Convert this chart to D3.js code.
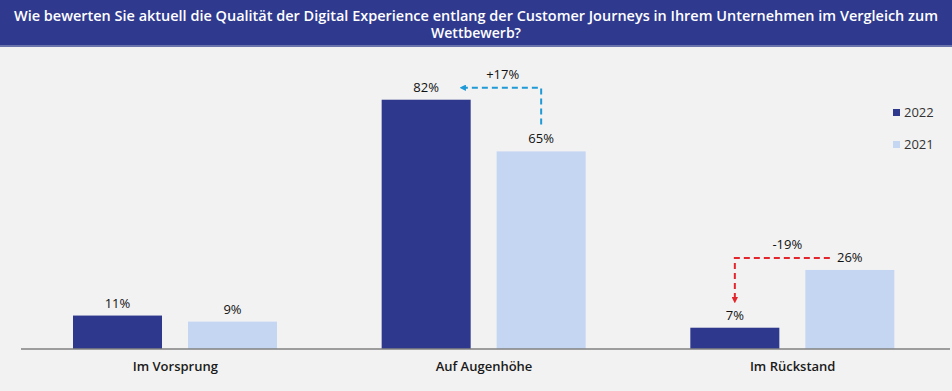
<!DOCTYPE html>
<html>
<head>
<meta charset="utf-8">
<script src="https://cdn.jsdelivr.net/npm/d3@7"></script>
<style>
  body { margin: 0; background: #f2f2f2; }
  svg { display: block; }
</style>
</head>
<body>
<svg id="chart"></svg>
<script>
// data
const categories = ["Im Vorsprung", "Auf Augenhöhe", "Im Rückstand"];
const years = ["2022", "2021"];
const values2022 = [11, 82, 7];
const values2021 = [9, 65, 26];
const titleLines = [
    "Wie bewerten Sie aktuell die Qualität der Digital Experience entlang der Customer Journeys in Ihrem Unternehmen im Vergleich zum",
    "Wettbewerb?"
];
const deltas = [
    { cat: "Auf Augenhöhe", label: "+17%" },
    { cat: "Im Rückstand", label: "-19%" }
];

const width = 952, height = 391;
const colors = { "2022": "#2e388c", "2021": "#c5d6f3" };
const font = "'Open Sans', 'Noto Sans', sans-serif";

const svg = d3.select("#chart")
    .attr("width", width)
    .attr("height", height)
    .style("font-family", font);

svg.append("rect").attr("width", width).attr("height", height).attr("fill", "#f2f2f2");

/* title bar */
svg.append("rect").attr("width", width).attr("height", 45).attr("fill", "#2f3a8f");
svg.append("rect").attr("y", 45).attr("width", width).attr("height", 2).attr("fill", "#6b73ad");

const titleWidths = [924, 90];
svg.append("g").selectAll("text")
    .data(titleLines)
    .join("text")
    .attr("x", width / 2)
    .attr("y", (d, i) => 21 + i * 17)
    .attr("text-anchor", "middle")
    .attr("fill", "#fff")
    .attr("font-size", "13.5px")
    .attr("font-weight", 600)
    .attr("textLength", (d, i) => titleWidths[i])
    .attr("lengthAdjust", "spacingAndGlyphs")
    .text(d => d);

/* scales */
const x0 = d3.scaleBand().domain(categories).range([21, 947]);
const x1 = d3.scaleBand().domain(years).range([52, 256]).paddingInner(0.226);
const y = d3.scaleLinear().domain([0, 100]).range([349, 45]);

const rows = categories.map((c, i) => ({
    cat: c,
    bars: [
        { year: "2022", value: values2022[i] },
        { year: "2021", value: values2021[i] }
    ]
}));

const groups = svg.append("g").selectAll("g")
    .data(rows)
    .join("g")
    .attr("transform", d => `translate(${x0(d.cat)},0)`);

groups.selectAll("rect")
    .data(d => d.bars)
    .join("rect")
    .attr("x", d => x1(d.year))
    .attr("width", x1.bandwidth())
    .attr("y", d => y(d.value))
    .attr("height", d => y(0) - y(d.value))
    .attr("fill", d => colors[d.year]);

groups.selectAll("text.val")
    .data(d => d.bars)
    .join("text")
    .attr("class", "val")
    .attr("x", d => x1(d.year) + x1.bandwidth() / 2)
    .attr("y", d => y(d.value) - 8)
    .attr("text-anchor", "middle")
    .attr("font-size", "13px")
    .attr("font-weight", 500)
    .attr("fill", "#111")
    .text(d => d.value + "%");

/* axis */
const xAxis = svg.append("g")
    .attr("transform", `translate(0,${y(0)})`)
    .call(d3.axisBottom(x0).tickSize(0).tickPadding(13));
xAxis.select(".domain").attr("stroke", "#808080").attr("stroke-width", 1.5)
    .attr("d", `M21,0H950`);
xAxis.selectAll("text")
    .attr("font-family", font)
    .attr("font-size", "13px")
    .attr("font-weight", 600)
    .attr("fill", "#1a1a1a");

/* legend */
const legend = svg.append("g").attr("transform", "translate(893,109)");
const li = legend.selectAll("g")
    .data(years)
    .join("g")
    .attr("transform", (d, i) => `translate(0,${i * 32})`);
li.append("rect").attr("width", 7).attr("height", 7).attr("fill", d => colors[d]);
li.append("text")
    .attr("x", 11).attr("y", 8)
    .attr("font-size", "13px")
    .attr("fill", "#333")
    .text(d => d);

/* delta arrows */
const defs = svg.append("defs");
[["arrBlue", "#1f9ad6"], ["arrRed", "#e3262b"]].forEach(([id, c]) => {
    defs.append("marker")
        .attr("id", id)
        .attr("viewBox", "0 0 10 10")
        .attr("refX", 9).attr("refY", 5)
        .attr("markerWidth", 3.2).attr("markerHeight", 3.2)
        .attr("orient", "auto-start-reverse")
        .append("path").attr("d", "M0,0L10,5L0,10Z").attr("fill", c);
});

const cx = (cat, yr) => x0(cat) + x1(yr) + x1.bandwidth() / 2;
const vi = cat => categories.indexOf(cat);

// +17%: from 2021 label up, then left towards 2022 label
{
    const c = deltas[0].cat, i = vi(c);
    const xs = cx(c, "2021"), yTop = y(values2022[i]) - 12;
    const xe = cx(c, "2022") + 34;
    svg.append("path")
        .attr("d", `M${xs},${y(values2021[i]) - 27}V${yTop}H${xe}`)
        .attr("fill", "none")
        .attr("stroke", "#1f9ad6")
        .attr("stroke-width", 2)
        .attr("stroke-dasharray", "6,4")
        .attr("marker-end", "url(#arrBlue)");
    svg.append("text")
        .attr("x", (xs + xe) / 2 + 2).attr("y", yTop - 9)
        .attr("text-anchor", "middle")
        .attr("font-size", "13px").attr("font-weight", 500).attr("fill", "#111")
        .text(deltas[0].label);
}

// -19%: from 2021 label left, then down to 2022 label
{
    const c = deltas[1].cat, i = vi(c);
    const xs = cx(c, "2021") - 20, yTop = y(values2021[i]) - 12;
    const xe = cx(c, "2022");
    svg.append("path")
        .attr("d", `M${xs},${yTop}H${xe}V${y(values2022[i]) - 25}`)
        .attr("fill", "none")
        .attr("stroke", "#e3262b")
        .attr("stroke-width", 2)
        .attr("stroke-dasharray", "6,4")
        .attr("marker-end", "url(#arrRed)");
    svg.append("text")
        .attr("x", (xs + xe) / 2 + 5).attr("y", yTop - 9)
        .attr("text-anchor", "middle")
        .attr("font-size", "13px").attr("font-weight", 500).attr("fill", "#111")
        .text(deltas[1].label);
}
</script>
</body>
</html>
